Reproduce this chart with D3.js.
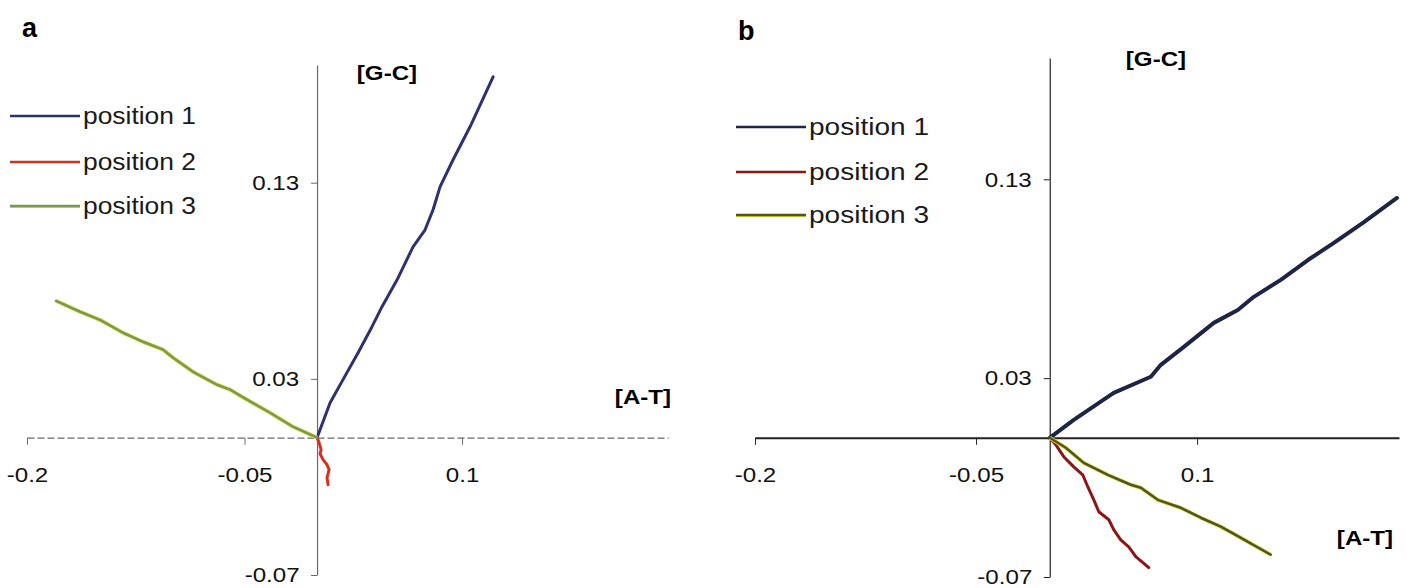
<!DOCTYPE html>
<html>
<head>
<meta charset="utf-8">
<script src="https://cdn.jsdelivr.net/npm/d3@7"></script>
<style>
  body { margin: 0; background: #fff; }
  svg { font-family: "Liberation Sans", Arial, sans-serif; }
  .stretch { transform-box: fill-box; transform-origin: center; transform: scaleX(1.15); }
</style>
</head>
<body>
<svg id="chart" width="1406" height="588"></svg>
<script>
// tick values shared by both panels
const xTicks = [-0.2, -0.05, 0.1];
const yTicks = [-0.07, 0.03, 0.13];
const seriesNames = ["position 1", "position 2", "position 3"];

// panel a: cumulative skew walks, [A-T] vs [G-C]
const aPos1 = [[0,0],[0.009,0.0178],[0.0179,0.0296],[0.0283,0.0433],[0.0379,0.0566],[0.0448,0.0668],
  [0.0552,0.0805],[0.0662,0.0973],[0.0745,0.106],[0.08,0.1162],[0.0848,0.1279],[0.0938,0.1417],
  [0.1055,0.1585],[0.1214,0.184]];
const aPos2 = [[0,0],[0.0014,-0.0025],[0.0028,-0.0061],[0.0021,-0.0082],[0.0041,-0.0112],
  [0.0069,-0.0138],[0.0083,-0.0163],[0.0069,-0.0204],[0.0076,-0.024]];
const aPos3 = [[0,0],[-0.0166,0.0056],[-0.0324,0.0127],[-0.0483,0.0194],[-0.06,0.0245],[-0.069,0.027],
  [-0.0855,0.0336],[-0.0993,0.0408],[-0.1062,0.0449],[-0.12,0.0489],[-0.1338,0.0535],
  [-0.1497,0.0601],[-0.1634,0.0642],[-0.18,0.0698]];

// panel b
const bPos1 = [[0,0],[0.0163,0.009],[0.0434,0.0226],[0.0686,0.0307],[0.0754,0.0367],[0.091,0.0457],
  [0.1113,0.0578],[0.1276,0.0643],[0.1385,0.0709],[0.1568,0.0794],[0.1752,0.0894],[0.1928,0.098],
  [0.2132,0.1085],[0.2356,0.1206]];
const bPos2 = [[0,0],[0.0041,-0.0035],[0.0095,-0.0095],[0.0163,-0.0146],[0.0224,-0.0186],
  [0.0258,-0.0246],[0.0299,-0.0312],[0.0333,-0.0372],[0.0401,-0.0412],[0.0434,-0.0462],
  [0.0482,-0.0513],[0.0536,-0.0548],[0.0584,-0.0598],[0.0672,-0.0653]];
const bPos3 = [[0,0],[0.0109,-0.005],[0.0231,-0.0126],[0.0394,-0.0186],[0.055,-0.0236],[0.0618,-0.0251],
  [0.0733,-0.0312],[0.0889,-0.0352],[0.1025,-0.0402],[0.1161,-0.0447],[0.1297,-0.0503],[0.15,-0.0588]];

const svg = d3.select("#chart");

function drawPanel(p) {
  const x = d3.scaleLinear().domain(p.xDomain).range(p.xRange);
  const y = d3.scaleLinear().domain(p.yDomain).range(p.yRange);
  const g = svg.append("g");

  // x axis through y = 0
  const xa = g.append("g")
    .attr("transform", "translate(0," + y(0) + ")")
    .call(d3.axisBottom(x).tickValues(xTicks).tickFormat(d => String(d))
      .tickSizeInner(7).tickSizeOuter(0).tickPadding(22));
  // y axis through x = 0
  const ya = g.append("g")
    .attr("transform", "translate(" + x(0) + ",0)")
    .call(d3.axisLeft(y).tickValues(yTicks).tickFormat(d => String(d))
      .tickSizeInner(6).tickSizeOuter(0).tickPadding(15));

  [xa, ya].forEach(a => {
    a.selectAll("text").attr("class", "stretch").style("font-size", "21px").attr("fill", "#111");
    a.selectAll("line").attr("stroke", p.axisColor);
  });
  ya.select(".domain").attr("stroke", p.axisColor).attr("stroke-width", 1.2);
  xa.select(".domain").attr("stroke", p.axisColor).attr("stroke-width", p.xAxisWidth)
    .attr("stroke-dasharray", p.xDash);

  const line = d3.line().x(d => x(d[0])).y(d => y(d[1]));
  p.series.forEach(s => {
    if (s.under) {
      g.append("path").datum(s.data).attr("d", line).attr("fill", "none")
        .attr("stroke", s.under).attr("stroke-width", s.width + 1.5).attr("stroke-linejoin", "round");
    }
    g.append("path").datum(s.data).attr("d", line).attr("fill", "none")
      .attr("stroke", s.color).attr("stroke-width", s.width)
      .attr("stroke-linejoin", "round").attr("stroke-linecap", "round");
  });

  // legend
  p.series.forEach((s, i) => {
    const ly = p.legendY[i];
    if (s.under) {
      g.append("line").attr("x1", p.legendX[0]).attr("x2", p.legendX[1]).attr("y1", ly + 1).attr("y2", ly + 1)
        .attr("stroke", s.under).attr("stroke-width", 2);
    }
    g.append("line").attr("x1", p.legendX[0]).attr("x2", p.legendX[1]).attr("y1", ly).attr("y2", ly)
      .attr("stroke", s.color).attr("stroke-width", 2.5);
    g.append("text").attr("x", p.legendX[1] + 3).attr("y", ly + 8)
      .attr("textLength", p.legendTextLen).attr("lengthAdjust", "spacingAndGlyphs")
      .style("font-size", "23px").attr("fill", "#1a1a1a").text(seriesNames[i]);
  });

  // axis names and panel letter
  g.append("text").attr("class", "stretch").attr("x", p.gc[0]).attr("y", p.gc[1])
    .attr("text-anchor", "middle").style("font-size", "21px").style("font-weight", "bold").text("[G-C]");
  g.append("text").attr("class", "stretch").attr("x", p.at[0]).attr("y", p.at[1])
    .attr("text-anchor", "middle").style("font-size", "21px").style("font-weight", "bold").text("[A-T]");
  g.append("text").attr("x", p.letter[0]).attr("y", p.letter[1])
    .style("font-size", "27px").style("font-weight", "bold").text(p.name);
}

drawPanel({
  name: "a",
  xDomain: [-0.2, 0.242], xRange: [27, 668],
  yDomain: [-0.07, 0.19], yRange: [575, 65],
  axisColor: "#6a6a6a", xAxisWidth: 1.2, xDash: "7,3",
  series: [
    { data: aPos1, color: "#2f3070", width: 3 },
    { data: aPos2, color: "#d8301f", width: 3 },
    { data: aPos3, color: "#7a9a46", width: 2.5, under: "#d6dc58" }
  ],
  legendX: [10, 80], legendY: [116, 162, 206], legendTextLen: 113,
  gc: [387, 80], at: [643, 404], letter: [22, 37]
});

drawPanel({
  name: "b",
  xDomain: [-0.2, 0.237], xRange: [755, 1399],
  yDomain: [-0.07, 0.191], yRange: [577, 58],
  axisColor: "#222", xAxisWidth: 2, xDash: null,
  series: [
    { data: bPos1, color: "#1d2444", width: 4 },
    { data: bPos2, color: "#8a1616", width: 3 },
    { data: bPos3, color: "#4e5422", width: 2.5, under: "#dede3c" }
  ],
  legendX: [736, 806], legendY: [127, 172, 215], legendTextLen: 120,
  gc: [1156, 66], at: [1365, 545], letter: [738, 40]
});
</script>
</body>
</html>
